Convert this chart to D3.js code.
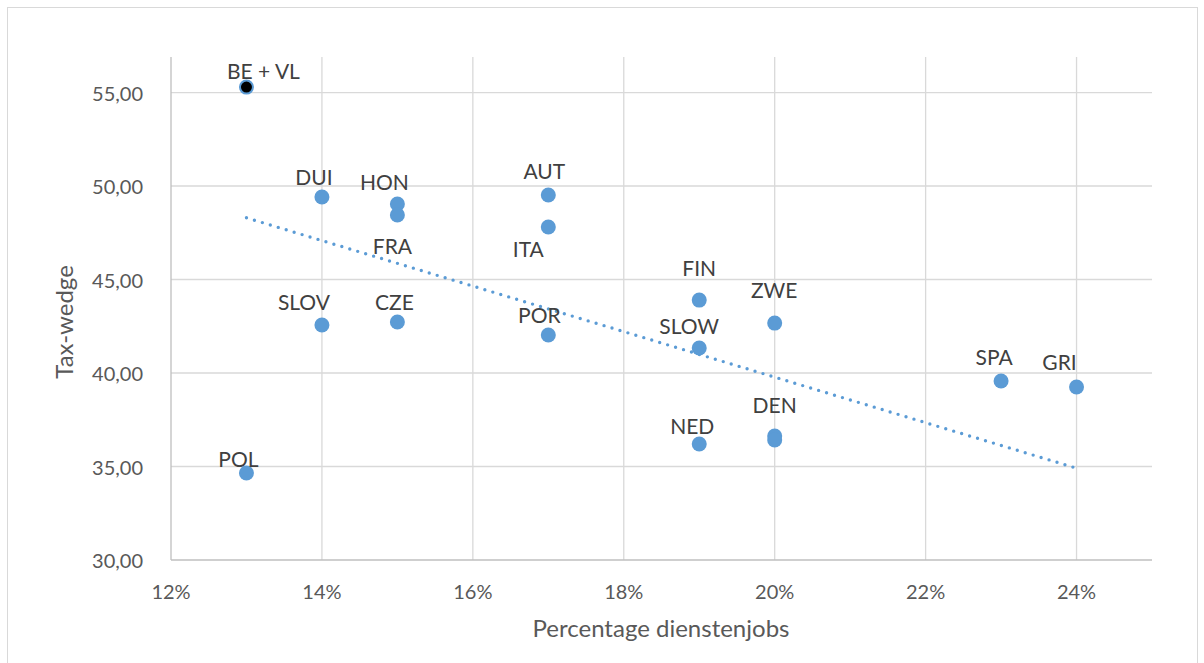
<!DOCTYPE html>
<html>
<head>
<meta charset="utf-8">
<script src="https://cdnjs.cloudflare.com/ajax/libs/d3/7.8.5/d3.min.js"></script>
<style>
  html, body { margin: 0; padding: 0; background: #fff; }
  svg { display: block; font-family: Lato, "Noto Sans", sans-serif; }
</style>
</head>
<body>
<svg width="1204" height="663"></svg>
<script>
// data
var countries = ["BE + VL", "DUI", "HON", "FRA", "AUT", "ITA", "SLOV", "CZE", "POR",
                 "FIN", "SLOW", "ZWE", "NED", "DEN", "DEN2", "SPA", "GRI", "POL"];
var dienstenjobs = [0.13, 0.14, 0.15, 0.15, 0.17, 0.17, 0.14, 0.15, 0.17,
                    0.19, 0.19, 0.20, 0.19, 0.20, 0.20, 0.23, 0.24, 0.13];
var taxWedge = [55.29, 49.41, 49.04, 48.45, 49.52, 47.81, 42.57, 42.73, 42.03,
                43.90, 41.34, 42.67, 36.20, 36.63, 36.42, 39.57, 39.25, 34.65];
var showLabel = [1, 1, 1, 1, 1, 1, 1, 1, 1, 1, 1, 1, 1, 1, 0, 1, 1, 1];

// trendline as drawn (endpoints)
var trendX = [0.13, 0.24];
var trendY = [48.30, 34.91];

var xTicks = [0.12, 0.14, 0.16, 0.18, 0.20, 0.22, 0.24];
var yTicks = [30, 35, 40, 45, 50, 55];

// label offsets in px from the point (layout only)
var labelOffset = [[17, -8], [-8, -12], [-13, -14], [-5, 39], [-4, -16], [-20, 30],
                   [-18, -15], [-3, -12], [-9, -12], [0, -24], [-10, -14], [-0.5, -25],
                   [-7, -10], [0, -23], [0, 0], [-7, -16], [-17, -17], [-8, -6]];

var svg = d3.select("svg");

// outer chart border
svg.append("rect")
    .attr("x", 7.5).attr("y", 7.5)
    .attr("width", 1190).attr("height", 670)
    .attr("fill", "none").attr("stroke", "#d9d9d9").attr("stroke-width", 1);

var mLeft = 171, mRight = 1152, mTop = 57, mBottom = 560;

var x = d3.scaleLinear().domain([0.12, 0.25]).range([mLeft, mRight]);
var y = d3.scaleLinear().domain([30, 56.9]).range([mBottom, mTop]);

var g = svg.append("g");

// gridlines
g.selectAll(".hgrid").data(yTicks.slice(1)).enter().append("line")
    .attr("x1", mLeft).attr("x2", mRight)
    .attr("y1", d => y(d)).attr("y2", d => y(d))
    .attr("stroke", "#d9d9d9").attr("stroke-width", 1.3);

g.selectAll(".vgrid").data(xTicks.slice(1)).enter().append("line")
    .attr("x1", d => x(d)).attr("x2", d => x(d))
    .attr("y1", mTop).attr("y2", mBottom)
    .attr("stroke", "#d9d9d9").attr("stroke-width", 1.3);

// axis lines
g.append("line").attr("x1", mLeft).attr("x2", mLeft).attr("y1", mTop).attr("y2", mBottom)
    .attr("stroke", "#bfbfbf").attr("stroke-width", 1.3);
g.append("line").attr("x1", mLeft).attr("x2", mRight).attr("y1", mBottom).attr("y2", mBottom)
    .attr("stroke", "#bfbfbf").attr("stroke-width", 1.3);

// tick labels
var fmtY = d => d3.format(".2f")(d).replace(".", ",");
g.selectAll(".ytick").data(yTicks).enter().append("text")
    .attr("x", 143).attr("y", d => y(d) + 8)
    .attr("text-anchor", "end")
    .attr("font-size", 20).attr("fill", "#595959")
    .text(fmtY);

g.selectAll(".xtick").data(xTicks).enter().append("text")
    .attr("x", d => x(d)).attr("y", bottom_tick())
    .attr("text-anchor", "middle")
    .attr("font-size", 20).attr("fill", "#595959")
    .text(d => Math.round(d * 100) + "%");

function bottom_tick() { return mBottom + 39; }

// axis titles
svg.append("text")
    .attr("x", 661).attr("y", 637)
    .attr("text-anchor", "middle")
    .attr("font-size", 24).attr("fill", "#595959")
    .text("Percentage dienstenjobs");

svg.append("text")
    .attr("transform", "translate(73,322) rotate(-90)")
    .attr("text-anchor", "middle")
    .attr("font-size", 24).attr("fill", "#595959")
    .text("Tax-wedge");

// trendline
var line = d3.line().x(d => x(d[0])).y(d => y(d[1]));
g.append("path")
    .datum(d3.zip(trendX, trendY))
    .attr("d", line)
    .attr("fill", "none")
    .attr("stroke", "#5b9bd5")
    .attr("stroke-width", 3.4)
    .attr("stroke-linecap", "round")
    .attr("stroke-dasharray", "0 8.3");

// points
var pts = d3.range(countries.length);
g.selectAll(".pt").data(pts).enter().append("circle")
    .attr("cx", i => x(dienstenjobs[i]))
    .attr("cy", i => y(taxWedge[i]))
    .attr("r", i => i === 0 ? 6.5 : 7.5)
    .attr("fill", i => i === 0 ? "#000" : "#5b9bd5")
    .attr("stroke", i => i === 0 ? "#5b9bd5" : "none")
    .attr("stroke-width", 2);

// labels
g.selectAll(".lbl").data(pts.filter(i => showLabel[i])).enter().append("text")
    .attr("x", i => x(dienstenjobs[i]) + labelOffset[i][0])
    .attr("y", i => y(taxWedge[i]) + labelOffset[i][1])
    .attr("text-anchor", "middle")
    .attr("font-size", 21).attr("fill", "#404040")
    .text(i => countries[i]);
</script>
</body>
</html>
